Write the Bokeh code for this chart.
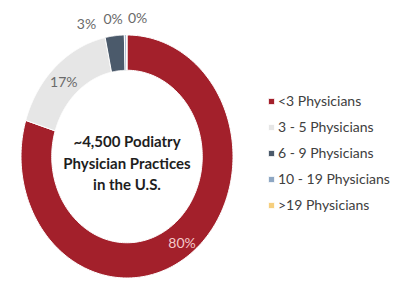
import numpy as np
from bokeh.plotting import figure
from bokeh.models import Range1d, Legend, LegendItem
from bokeh.core.properties import value
from bokeh.embed import file_html
from bokeh.resources import INLINE

# ---- data ----
categories = ["<3 Physicians", "3 - 5 Physicians", "6 - 9 Physicians",
              "10 - 19 Physicians", ">19 Physicians"]
shares = [79.8, 16.9, 2.9, 0.3, 0.1]
colors = ["#A3202B", "#E6E6E6", "#4B5A6B", "#8EA7C3", "#F6CF7E"]
center_lines = ["~4,500 Podiatry", "Physician Practices", "in the U.S."]

# ---- layout / style ----
R_OUT, R_IN = 1.0, 0.71
label_r = [0.875, 0.83, 1.10, 1.14, 1.14]
label_dx = [0, -4, -27, -12, 11]
label_dy = [0, 0, 0, 0, 0]
label_colors = ["#F4C9C9", "#6A6A6A", "#6A6A6A", "#6A6A6A", "#6A6A6A"]
FONT = "Lato"

W, H = 395, 281
cx_px, cy_px = 126.5, 156.0   # donut centre in figure pixels (from top-left)
rx_px, ry_px = 106.0, 121.5   # pixels per data unit horizontally / vertically

p = figure(width=W, height=H, output_backend="svg", toolbar_location=None,
           x_axis_type=None, y_axis_type=None, min_border=0,
           x_range=Range1d(-cx_px / rx_px, (W - cx_px) / rx_px),
           y_range=Range1d(-(H - cy_px) / ry_px, cy_px / ry_px))
p.grid.visible = False
p.outline_line_color = None
p.background_fill_color = "white"
p.border_fill_color = "white"

total = float(sum(shares))
frac = np.array(shares) / total
starts = np.concatenate([[0.0], np.cumsum(frac)[:-1]])
ends = starts + frac

items = []
for cat, f0, f1, col in zip(categories, starts, ends, colors):
    th = np.radians(90 - 360 * np.linspace(f0, f1, 200))
    xs = np.concatenate([R_OUT * np.cos(th), R_IN * np.cos(th[::-1])])
    ys = np.concatenate([R_OUT * np.sin(th), R_IN * np.sin(th[::-1])])
    r = p.patch(xs, ys, fill_color=col, line_color="white", line_width=1)
    items.append(LegendItem(label=cat, renderers=[r]))

# percentage labels
mid = np.radians(90 - 360 * (starts + ends) / 2)
lx = [rr * np.cos(m) for rr, m in zip(label_r, mid)]
ly = [rr * np.sin(m) for rr, m in zip(label_r, mid)]
p.text(x=lx, y=ly, text=[f"{round(s)}%" for s in shares],
       x_offset=label_dx, y_offset=label_dy,
       text_font=value(FONT), text_font_size="14px", text_color=label_colors,
       text_align="center", text_baseline="middle")

# centre text
p.text(x=[0, 0, 0], y=[0, 0, 0], text=center_lines, y_offset=[-16, 6, 27],
       text_font=value(FONT), text_font_style="bold", text_font_size="15px",
       text_color="#1E1E1E", text_align="center", text_baseline="middle")

legend = Legend(items=items, location=(267, 68), orientation="vertical",
                glyph_width=8, glyph_height=8, label_height=16, label_standoff=3,
                spacing=9, padding=0, margin=0, border_line_color=None,
                background_fill_alpha=0, label_text_font=FONT,
                label_text_font_size="14px", label_text_color="#404040")
p.add_layout(legend)

open("out.html", "w").write(file_html(p, INLINE))
